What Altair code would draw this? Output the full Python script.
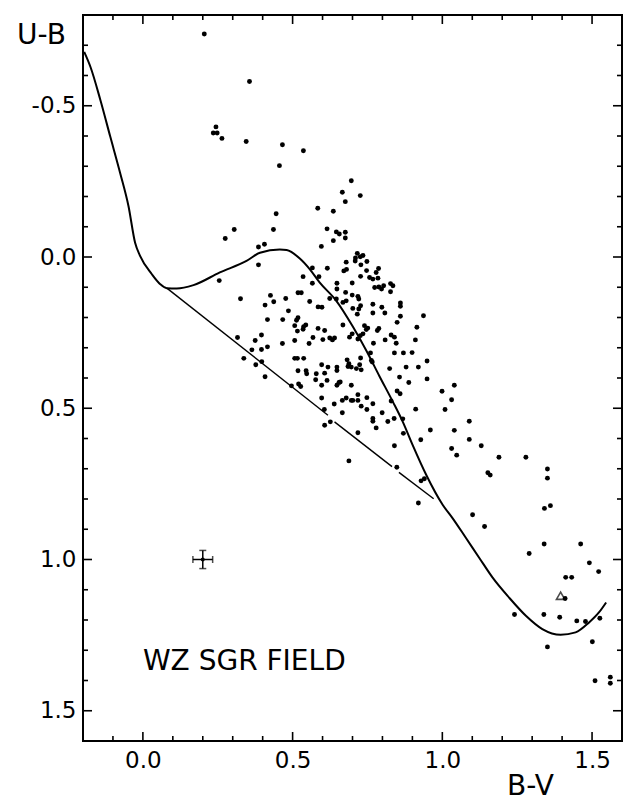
import altair as alt
import pandas as pd

# ---- star photometry (B-V, U-B) ----
bv = [0.205, 0.356, 0.235, 0.244, 0.248, 0.264, 0.345, 0.466, 0.536, 0.456,
      0.584, 0.445, 0.305, 0.436, 0.275, 0.386, 0.406, 0.386, 0.535, 0.696,
      0.666, 0.726, 0.676, 0.636, 0.615, 0.646, 0.656, 0.676, 0.676, 0.636,
      0.596,
      0.716, 0.735, 0.710, 0.726, 0.679, 0.709, 0.728, 0.748, 0.671, 0.680,
      0.747, 0.787, 0.779, 0.727, 0.757, 0.768, 0.785, 0.616, 0.588, 0.566,
      0.255, 0.326, 0.426, 0.437, 0.408, 0.477, 0.518, 0.529, 0.557, 0.486,
      0.585, 0.416, 0.467, 0.518, 0.513, 0.507, 0.537, 0.544, 0.535, 0.516,
      0.585, 0.316, 0.396, 0.375, 0.466, 0.507, 0.568, 0.555, 0.364, 0.396,
      0.416, 0.337, 0.397, 0.377, 0.507, 0.516, 0.537, 0.518, 0.545, 0.547,
      0.579, 0.577, 0.408, 0.496, 0.520, 0.527,
      0.566, 0.648, 0.699, 0.774, 0.788, 0.804, 0.797, 0.827, 0.835, 0.827,
      0.648, 0.677, 0.699, 0.718, 0.721, 0.624, 0.646, 0.668, 0.679, 0.701,
      0.721, 0.727, 0.768, 0.598, 0.798, 0.860, 0.860, 0.716, 0.768, 0.808,
      0.860, 0.849, 0.668, 0.740, 0.751, 0.746, 0.788, 0.783, 0.607, 0.735,
      0.726, 0.601, 0.624, 0.633, 0.640, 0.690, 0.699, 0.718, 0.770, 0.809,
      0.829, 0.840, 0.846, 0.840, 0.870, 0.760, 0.727, 0.682, 0.688, 0.685,
      0.696, 0.713, 0.724, 0.729, 0.763, 0.766, 0.824, 0.857, 0.879, 0.597,
      0.618, 0.648, 0.648, 0.607, 0.915,
      0.937, 0.910, 0.899, 0.949, 0.920, 0.949, 0.888, 1.040, 0.999, 1.031,
      1.009, 0.911, 1.090, 1.040, 0.960, 1.090, 1.130, 1.031, 1.048, 1.189,
      1.279, 1.152, 1.160, 1.351, 1.351, 1.341, 1.361, 0.928, 0.840, 0.688,
      0.848, 0.929, 0.940, 0.920, 1.101, 1.141, 0.868, 0.839, 0.870, 0.849,
      0.859, 0.829, 0.818, 0.779, 0.768, 0.768, 0.799, 0.718, 0.666, 0.748,
      0.729, 0.718, 0.748, 0.768, 0.718, 0.666, 0.679, 0.696, 0.701, 0.639,
      0.597, 0.606, 0.626, 0.607,
      0.597, 0.615, 0.648, 0.655, 0.659, 0.696,
      1.340, 1.462, 1.290, 1.491, 1.522, 1.412, 1.432, 1.410, 1.241, 1.339,
      1.392, 1.449, 1.478, 1.526, 1.351, 1.501, 1.510, 1.561, 1.561]
ub = [-0.737, -0.580, -0.410, -0.430, -0.410, -0.392, -0.382, -0.371, -0.351, -0.302,
      -0.161, -0.143, -0.091, -0.091, -0.061, -0.033, -0.042, 0.026, 0.065, -0.252,
      -0.214, -0.203, -0.183, -0.151, -0.093, -0.083, -0.076, -0.082, -0.063, -0.054,
      -0.035,
      -0.012, -0.005, 0.003, -0.001, 0.017, 0.013, 0.026, 0.015, 0.046, 0.041,
      0.045, 0.038, 0.051, 0.064, 0.068, 0.073, 0.070, 0.037, 0.065, 0.036,
      0.078, 0.138, 0.127, 0.148, 0.159, 0.137, 0.118, 0.118, 0.147, 0.178,
      0.165, 0.207, 0.207, 0.201, 0.209, 0.227, 0.230, 0.225, 0.239, 0.245,
      0.236, 0.266, 0.258, 0.276, 0.286, 0.276, 0.266, 0.286, 0.307, 0.306,
      0.297, 0.335, 0.346, 0.356, 0.335, 0.335, 0.335, 0.376, 0.376, 0.386,
      0.386, 0.406, 0.396, 0.426, 0.420, 0.428,
      0.087, 0.087, 0.086, 0.101, 0.099, 0.095, 0.106, 0.088, 0.095, 0.115,
      0.106, 0.117, 0.126, 0.130, 0.139, 0.137, 0.139, 0.150, 0.145, 0.170,
      0.172, 0.161, 0.156, 0.166, 0.166, 0.152, 0.163, 0.189, 0.185, 0.185,
      0.196, 0.216, 0.225, 0.227, 0.235, 0.240, 0.236, 0.243, 0.243, 0.254,
      0.260, 0.273, 0.268, 0.274, 0.268, 0.265, 0.254, 0.271, 0.285, 0.274,
      0.258, 0.265, 0.285, 0.317, 0.317, 0.317, 0.334, 0.340, 0.353, 0.362,
      0.364, 0.369, 0.356, 0.373, 0.342, 0.347, 0.369, 0.397, 0.364, 0.356,
      0.364, 0.364, 0.375, 0.384, 0.232,
      0.194, 0.274, 0.316, 0.344, 0.364, 0.403, 0.415, 0.424, 0.444, 0.472,
      0.504, 0.503, 0.543, 0.573, 0.572, 0.603, 0.624, 0.633, 0.655, 0.662,
      0.662, 0.713, 0.721, 0.701, 0.731, 0.831, 0.822, 0.604, 0.624, 0.674,
      0.695, 0.740, 0.733, 0.813, 0.852, 0.891, 0.535, 0.534, 0.583, 0.443,
      0.452, 0.476, 0.544, 0.565, 0.534, 0.543, 0.515, 0.581, 0.515, 0.504,
      0.493, 0.474, 0.465, 0.485, 0.455, 0.474, 0.466, 0.474, 0.474, 0.486,
      0.466, 0.504, 0.545, 0.556,
      0.424, 0.408, 0.424, 0.415, 0.413, 0.424,
      0.949, 0.949, 0.980, 1.011, 1.040, 1.059, 1.059, 1.129, 1.182, 1.182,
      1.191, 1.203, 1.205, 1.194, 1.289, 1.272, 1.401, 1.389, 1.409]

# open triangle star
tri_bv = [1.395]
tri_ub = [1.120]

# intrinsic two-colour sequence
curve_bv = [-0.196, -0.175, -0.142, -0.109, -0.076, -0.048, -0.026, -0.009, 0.030,
            0.058, 0.080, 0.113, 0.169, 0.257, 0.346, 0.391, 0.457, 0.480, 0.524,
            0.557, 0.590, 0.646, 0.701, 0.746, 0.790, 0.835, 0.868, 0.901, 0.946,
            1.001, 1.034, 1.079, 1.123, 1.168, 1.223, 1.279, 1.334, 1.395, 1.445,
            1.490, 1.523, 1.547]
curve_ub = [-0.678, -0.628, -0.519, -0.398, -0.278, -0.168, -0.047, -0.003, 0.057,
            0.090, 0.103, 0.104, 0.093, 0.051, 0.013, -0.014, -0.025, -0.023, 0.005,
            0.040, 0.084, 0.145, 0.230, 0.309, 0.394, 0.479, 0.545, 0.622, 0.720,
            0.819, 0.863, 0.929, 0.994, 1.060, 1.126, 1.186, 1.230, 1.249, 1.241,
            1.208, 1.175, 1.142]

# reddening line (drawn in three pieces)
redd_seg = [1, 1, 2, 2, 3, 3]
redd_bv = [0.080, 0.618, 0.640, 0.832, 0.855, 0.971]
redd_ub = [0.103, 0.523, 0.545, 0.693, 0.712, 0.799]

# typical error
err_bv = [0.2]
err_ub = [1.0]
err_dbv = [0.033]
err_dub = [0.030]

# label
label_text = ["WZ SGR FIELD"]
label_bv = [0.0]
label_ub = [1.366]

# axis ticks
x_major = [0.0, 0.5, 1.0, 1.5]
x_minor = [-0.1, 0.1, 0.2, 0.3, 0.4, 0.6, 0.7, 0.8, 0.9, 1.1, 1.2, 1.3, 1.4]
y_major = [-0.5, 0.0, 0.5, 1.0, 1.5]
y_minor = [-0.7, -0.6, -0.4, -0.3, -0.2, -0.1, 0.1, 0.2, 0.3, 0.4, 0.6, 0.7,
           0.8, 0.9, 1.1, 1.2, 1.3, 1.4]

W, H = 539, 726
FONT = "DejaVu Sans"

xs = alt.Scale(domain=[-0.2, 1.6], nice=False, zero=False)
ys = alt.Scale(domain=[-0.8, 1.6], nice=False, zero=False, reverse=True)

label_expr = "datum.value < 0 ? '-' + format(-datum.value, '.1f') : format(datum.value, '.1f')"

x_axis = alt.Axis(values=x_major, labelExpr=label_expr, ticks=False, tickSize=0,
                  domain=False, grid=False, labelFont=FONT, labelFontSize=23,
                  labelColor="black", labelPadding=8, title="B-V",
                  titleFont=FONT, titleFontSize=28, titleFontWeight="normal",
                  titleColor="black", titleAlign="center",
                  titleX=447, titleY=53, titleBaseline="alphabetic")
y_axis = alt.Axis(values=y_major, labelExpr=label_expr, ticks=False, tickSize=0,
                  domain=False, grid=False, labelFont=FONT, labelFontSize=23,
                  labelColor="black", labelPadding=7, title="U-B",
                  titleFont=FONT, titleFontSize=28, titleFontWeight="normal",
                  titleColor="black", titleAngle=0, titleAlign="center",
                  titleX=-42, titleY=28, titleBaseline="alphabetic")


def X(field):
    return alt.X(field, scale=xs, axis=x_axis)


def Y(field):
    return alt.Y(field, scale=ys, axis=y_axis)


stars = pd.DataFrame({"bv": bv, "ub": ub})
points = alt.Chart(stars).mark_circle(size=24, color="black", opacity=1).encode(
    x=X("bv:Q"), y=Y("ub:Q"))

tri = alt.Chart(pd.DataFrame({"bv": tri_bv, "ub": tri_ub})).mark_point(
    shape="triangle-up", filled=False, size=70, color="black", strokeWidth=1.6
).encode(x=X("bv:Q"), y=Y("ub:Q"))

curve_df = pd.DataFrame({"bv": curve_bv, "ub": curve_ub, "i": list(range(len(curve_bv)))})
curve = alt.Chart(curve_df).mark_line(color="black", strokeWidth=2, interpolate="monotone").encode(
    x=X("bv:Q"), y=Y("ub:Q"), order="i:Q")

redd_df = pd.DataFrame({"bv": redd_bv, "ub": redd_ub, "seg": redd_seg})
redd = alt.Chart(redd_df).mark_line(color="black", strokeWidth=1.4).encode(
    x=X("bv:Q"), y=Y("ub:Q"), detail="seg:N")

err_df = pd.DataFrame({"bv": err_bv, "ub": err_ub, "dbv": err_dbv, "dub": err_dub})
err_df["bv_lo"] = err_df["bv"] - err_df["dbv"]
err_df["bv_hi"] = err_df["bv"] + err_df["dbv"]
err_df["ub_lo"] = err_df["ub"] - err_df["dub"]
err_df["ub_hi"] = err_df["ub"] + err_df["dub"]
eb = alt.Chart(err_df)
err_h = eb.mark_rule(color="black", strokeWidth=1.5).encode(
    x=X("bv_lo:Q"), x2="bv_hi:Q", y=Y("ub:Q"))
err_v = eb.mark_rule(color="black", strokeWidth=1.5).encode(
    x=X("bv:Q"), y=Y("ub_lo:Q"), y2="ub_hi:Q")
cap_l = eb.mark_tick(color="black", orient="vertical", size=7, thickness=1.5).encode(
    x=X("bv_lo:Q"), y=Y("ub:Q"))
cap_r = eb.mark_tick(color="black", orient="vertical", size=7, thickness=1.5).encode(
    x=X("bv_hi:Q"), y=Y("ub:Q"))
cap_t = eb.mark_tick(color="black", orient="horizontal", size=7, thickness=1.5).encode(
    x=X("bv:Q"), y=Y("ub_lo:Q"))
cap_b = eb.mark_tick(color="black", orient="horizontal", size=7, thickness=1.5).encode(
    x=X("bv:Q"), y=Y("ub_hi:Q"))
err_dot = eb.mark_circle(size=16, color="black", opacity=1).encode(
    x=X("bv:Q"), y=Y("ub:Q"))

label = alt.Chart(pd.DataFrame({"t": label_text, "bv": label_bv, "ub": label_ub})).mark_text(
    align="left", baseline="alphabetic", font=FONT, fontSize=28, color="black"
).encode(x=X("bv:Q"), y=Y("ub:Q"), text="t:N")


def xticks(vals, length):
    d = alt.Chart(pd.DataFrame({"v": vals}))
    bottom = d.mark_rule(color="black", strokeWidth=1.6).encode(
        x=X("v:Q"), y=alt.value(H), y2=alt.value(H - length))
    top = d.mark_rule(color="black", strokeWidth=1.6).encode(
        x=X("v:Q"), y=alt.value(0), y2=alt.value(length))
    return [bottom, top]


def yticks(vals, length):
    d = alt.Chart(pd.DataFrame({"v": vals}))
    left = d.mark_rule(color="black", strokeWidth=1.6).encode(
        y=Y("v:Q"), x=alt.value(0), x2=alt.value(length))
    right = d.mark_rule(color="black", strokeWidth=1.6).encode(
        y=Y("v:Q"), x=alt.value(W), x2=alt.value(W - length))
    return [left, right]


tick_layers = xticks(x_major, 9) + xticks(x_minor, 5) + yticks(y_major, 9) + yticks(y_minor, 5)

chart = alt.layer(
    points, *tick_layers, curve, redd, err_h, err_v, cap_l, cap_r, cap_t, cap_b, err_dot,
    tri, label
).properties(
    width=W, height=H,
    autosize=alt.AutoSizeParams(type="none"),
    padding={"left": 83, "top": 15, "right": 1, "bottom": 59},
    background="white",
).configure_view(stroke="black", strokeWidth=2)

chart.save("out.html", embed_options={"renderer": "svg", "actions": False})
